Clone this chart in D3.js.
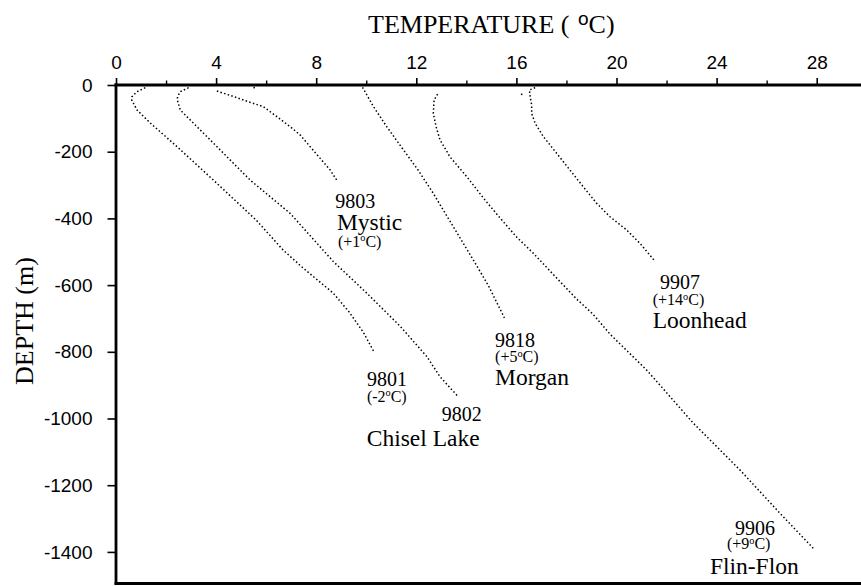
<!DOCTYPE html>
<html>
<head>
<meta charset="utf-8">
<script src="https://cdn.jsdelivr.net/npm/d3@7"></script>
<style>
  body { margin: 0; background: #fff; }
  .serif { font-family: "Liberation Serif", "Times New Roman", Times, serif; fill: #000; }
  .sans  { font-family: "Liberation Sans", Arial, Helvetica, sans-serif; fill: #000; }
</style>
</head>
<body>
<svg id="chart" width="861" height="586"></svg>
<script>
// Axis ticks
const xTicks = [0, 4, 8, 12, 16, 20, 24, 28];
const xMinorTicks = [2, 6, 10, 14, 18, 22, 26];
const yTicks = [0, -200, -400, -600, -800, -1000, -1200, -1400];

// Temperature logs: temperature (°C) against depth (m)
const temp9801  = [1.17, 0.84, 0.64, 0.63, 0.84, 1.37, 2.44, 3.89, 4.96, 5.60, 6.68, 7.48, 8.68, 9.32, 9.88, 10.33];
const depth9801 = [-8, -20, -35, -45, -75, -114, -185, -285, -360, -405, -495, -549, -624, -681, -741, -803];

const temp9802  = [2.90, 2.57, 2.46, 2.45, 2.57, 2.97, 3.77, 5.36, 6.96, 8.68, 10.02, 11.35, 12.43, 12.95, 13.68];
const depth9802 = [-8, -20, -35, -45, -75, -105, -165, -285, -385, -529, -624, -723, -815, -875, -935];

const temp9803  = [4.03, 4.43, 4.83, 5.16, 5.89, 6.43, 6.96, 7.36, 7.76, 8.16, 8.56, 8.86];
const depth9803 = [-18, -28, -38, -47, -65, -95, -125, -150, -185, -220, -255, -290];

const temp9818  = [9.85, 10.29, 10.82, 11.49, 12.07, 12.68, 13.48, 14.28, 14.87, 15.52];
const depth9818 = [-7, -65, -125, -195, -255, -325, -425, -525, -600, -698];

const temp9906  = [12.85, 12.71, 12.68, 12.79, 12.95, 13.35, 14.03, 14.68, 15.35, 16.01, 16.67, 17.61, 18.41, 19.06, 19.74, 21.21, 23.07, 24.93, 26.53, 27.86];
const depth9906 = [-27, -45, -85, -125, -165, -216, -276, -339, -399, -456, -504, -579, -642, -687, -747, -855, -1014, -1154, -1284, -1389];

const temp9907  = [16.75, 16.52, 16.55, 16.61, 16.61, 16.75, 17.08, 17.61, 18.14, 18.67, 19.21, 19.74, 20.41, 20.94, 21.50];
const depth9907 = [-8, -15, -35, -60, -85, -115, -155, -205, -255, -305, -355, -395, -435, -475, -525];

// Single near-surface readings that sit apart from their profiles
const spotTemps  = [5.52, 16.21];
const spotDepths = [-8, -28];

// Hole names and the correction noted under each hole number
const holeIds     = ["9801", "9802", "9803", "9818", "9906", "9907"];
const holeOffsets = ["(-2°C)", "", "(+1°C)", "(+5°C)", "(+9°C)", "(+14°C)"];
const holeNames   = ["", "Chisel Lake", "Mystic", "Morgan", "Flin-Flon", "Loonhead"];

const profiles = [
  { id: holeIds[0], t: temp9801, d: depth9801 },
  { id: holeIds[1], t: temp9802, d: depth9802 },
  { id: holeIds[2], t: temp9803, d: depth9803 },
  { id: holeIds[3], t: temp9818, d: depth9818 },
  { id: holeIds[4], t: temp9906, d: depth9906 },
  { id: holeIds[5], t: temp9907, d: depth9907 }
];

const svg = d3.select("#chart");

const x = d3.scaleLinear().domain([0, 29.77]).range([116, 861]);
const y = d3.scaleLinear().domain([0, -1495]).range([85, 583.6]);

// ---- axes ----
const topAxis = svg.append("g")
  .attr("transform", `translate(0,${y(0)})`)
  .call(d3.axisTop(x).tickValues(xTicks).tickSize(7).tickPadding(9).tickFormat(d => String(d)));
topAxis.select(".domain").remove();
topAxis.selectAll("line").attr("stroke", "#000").attr("stroke-width", 1.6);
topAxis.selectAll("text").attr("class", "sans").style("font-size", "19px").attr("fill", "#000");

const topMinor = svg.append("g")
  .attr("transform", `translate(0,${y(0)})`)
  .call(d3.axisTop(x).tickValues(xMinorTicks).tickSize(4.5).tickFormat(""));
topMinor.select(".domain").remove();
topMinor.selectAll("line").attr("stroke", "#000").attr("stroke-width", 1.4);

const leftAxis = svg.append("g")
  .attr("transform", `translate(${x(0)},0)`)
  .call(d3.axisLeft(y).tickValues(yTicks).tickSize(8.5).tickPadding(15).tickFormat(d => String(d)));
leftAxis.select(".domain").remove();
leftAxis.selectAll("line").attr("stroke", "#000").attr("stroke-width", 1.6);
leftAxis.selectAll("text").attr("class", "sans").style("font-size", "19px").attr("fill", "#000");

// frame lines: top, left, bottom
const [x0, x1] = x.range();
const [y0, y1] = y.range();
svg.append("line").attr("x1", x0 - 1.5).attr("x2", x1).attr("y1", y0).attr("y2", y0)
  .attr("stroke", "#000").attr("stroke-width", 3);
svg.append("line").attr("x1", x0).attr("x2", x0).attr("y1", y0 - 1.5).attr("y2", y1 + 1.5)
  .attr("stroke", "#000").attr("stroke-width", 2.8);
svg.append("line").attr("x1", x0 - 1.4).attr("x2", x1).attr("y1", y1).attr("y2", y1)
  .attr("stroke", "#000").attr("stroke-width", 3);

// ---- titles ----
const xTitle = svg.append("text").attr("class", "serif")
  .attr("x", 368).attr("y", 33).style("font-size", "26px");
xTitle.append("tspan").text("TEMPERATURE ( ");
xTitle.append("tspan").attr("class", "sans").style("font-size", "19px").attr("dx", 2).attr("dy", -8).text("o");
xTitle.append("tspan").attr("dy", 8).text("C)");

svg.append("text").attr("class", "serif")
  .attr("transform", "translate(33,321) rotate(-90)")
  .attr("text-anchor", "middle")
  .style("font-size", "26px")
  .text("DEPTH (m)");

// ---- profiles (dotted) ----
const line = d3.line().x(p => x(p[0])).y(p => y(p[1]));
profiles.forEach(pr => {
  const pts = pr.t.map((t, i) => [t, pr.d[i]]);
  svg.append("path")
    .attr("d", line(pts))
    .attr("fill", "none")
    .attr("stroke", "#000")
    .attr("stroke-width", 1.5)
    .attr("stroke-dasharray", "1.5 2.3");
});

svg.append("g").selectAll("rect")
  .data(spotTemps.map((t, i) => [t, spotDepths[i]]))
  .join("rect")
  .attr("x", d => x(d[0]) - 0.75).attr("y", d => y(d[1]) - 0.75)
  .attr("width", 1.5).attr("height", 1.5).attr("fill", "#000");

// ---- hole annotations, stacked lines placed relative to the bottom of each profile ----
function endOf(id) {
  const pr = profiles.find(p => p.id === id);
  const n = pr.t.length - 1;
  return [x(pr.t[n]), y(pr.d[n])];
}

// one <text> per hole, each line a tspan; "°" becomes a raised small "o"
function addBlock(lines) {
  const txt = svg.append("text").attr("class", "serif");
  lines.forEach(([str, px, py, size]) => {
    const ln = txt.append("tspan").attr("x", px).attr("y", py).style("font-size", size + "px");
    const parts = str.split("°");
    if (parts.length === 1) { ln.text(str); return; }
    ln.append("tspan").text(parts[0]);
    ln.append("tspan").style("font-size", (size * 0.64) + "px").attr("dy", -size * 0.36).text("o");
    ln.append("tspan").attr("dy", size * 0.36).text(parts[1]);
  });
}

const idSize = 20, offSize = 16, nameSize = 23.5;
// [hole, id dx, id dy, offset dx, offset dy, name dx, name dy]
const annot = [
  [0,  -7.6, 32.8,  -7.6, 49.3,   0,    0],
  [1, -16.6, 24.0,   0,    0,   -91.6, 49.3],
  [2,  -2.5, 25.8,   0.2, 64.8,  -0.8, 47.8],
  [3,  -9.3, 29.0,  -9.3, 44.5,  -9.3, 67.3],
  [4, -78.3,-13.3, -86.3,  1.2, -103.3, 25.7],
  [5,   6.0, 28.5,  -1.3, 45.3,  -1.3, 68.3]
];
annot.forEach(a => {
  const k = a[0];
  const [ex, ey] = endOf(holeIds[k]);
  const lines = [[holeIds[k], ex + a[1], ey + a[2], idSize]];
  if (holeOffsets[k]) lines.push([holeOffsets[k], ex + a[3], ey + a[4], offSize]);
  if (holeNames[k]) lines.push([holeNames[k], ex + a[5], ey + a[6], nameSize]);
  addBlock(lines);
});
</script>
</body>
</html>
